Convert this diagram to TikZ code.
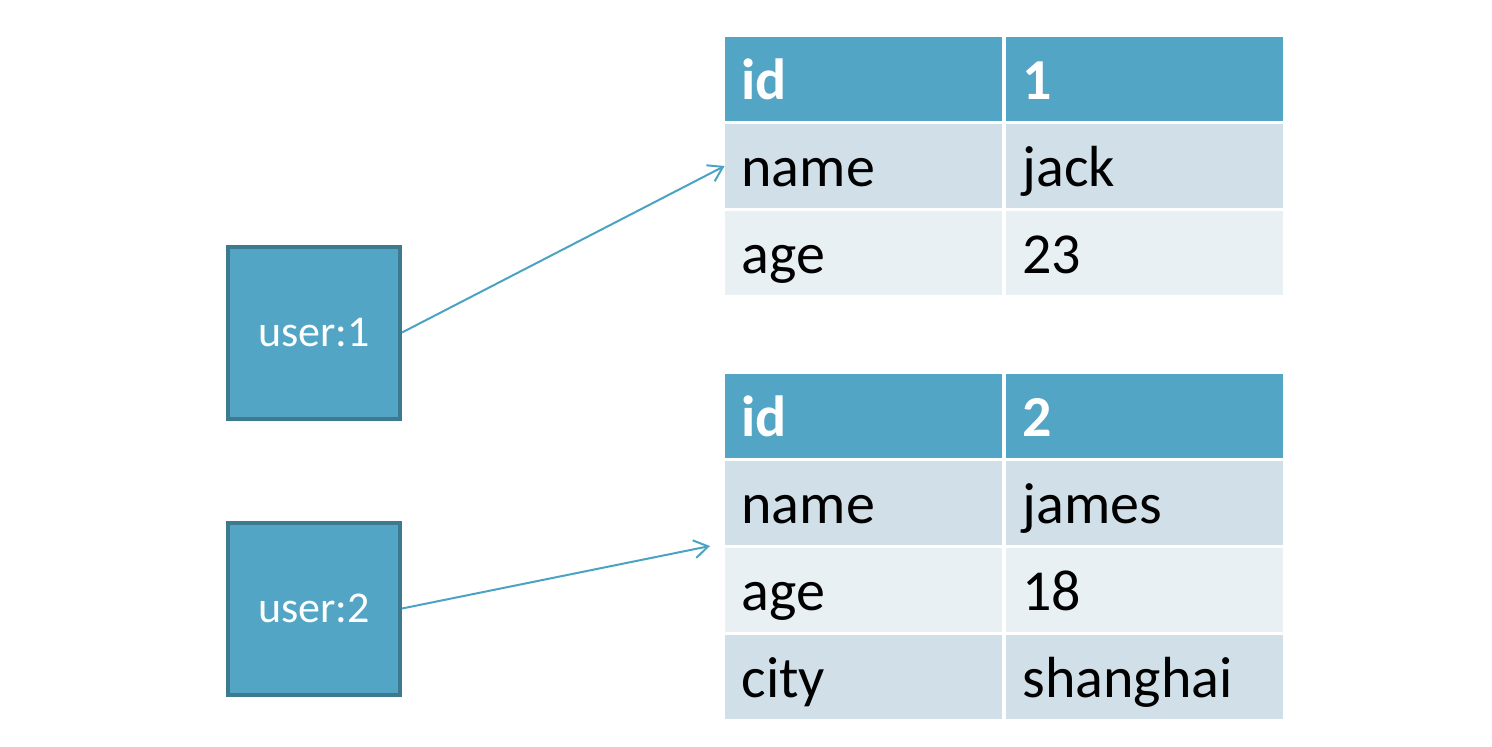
\documentclass[tikz,border=0pt]{standalone}
\usepackage{fontspec}
\setmainfont{Carlito}
\usetikzlibrary{arrows.meta}
\definecolor{hdblue}{RGB}{82,165,196}
\definecolor{boxline}{RGB}{62,122,143}
\definecolor{rowdark}{RGB}{208,223,232}
\definecolor{rowlight}{RGB}{232,240,244}
\definecolor{linkblue}{RGB}{75,163,196}

\begin{document}
\begin{tikzpicture}[x=0.5pt,y=-0.5pt,>={Straight Barb[length=7pt,width=9pt]},
  cell/.style={text width=122pt,inner xsep=8.25pt,inner ysep=0pt,text height=31pt,text depth=11pt,align=left,font=\fontsize{29pt}{34pt}\selectfont},
  head/.style={cell,fill=hdblue,text=white,font=\fontsize{29pt}{34pt}\selectfont\bfseries},
  dark/.style={cell,fill=rowdark},
  light/.style={cell,fill=rowlight},
  keybox/.style={draw=boxline,line width=2pt,fill=hdblue,minimum size=86pt,inner sep=0pt,text=white,font=\fontsize{22pt}{26pt}\selectfont},
  link/.style={linkblue,line width=1pt}]
\useasboundingbox (0,0) rectangle (1492,746);
% keys
\node[keybox] (user1) at (314,332.5) {user:1};
\node[keybox] (user2) at (314,608.5) {user:2};
% first hash
\node[head] (id1) at (863.5,79) {id};
\node[head] (id1v) at (1144.5,79) {1};
\node[dark] (name1) at (863.5,166) {name};
\node[dark] (name1v) at (1144.5,166) {jack};
\node[light] (age1) at (863.5,253) {age};
\node[light] (age1v) at (1144.5,253) {23};
% second hash
\node[head] (id2) at (863.5,416) {id};
\node[head] (id2v) at (1144.5,416) {2};
\node[dark] (name2) at (863.5,503) {name};
\node[dark] (name2v) at (1144.5,503) {james};
\node[light] (age2) at (863.5,590) {age};
\node[light] (age2v) at (1144.5,590) {18};
\node[dark] (city2) at (863.5,677) {city};
\node[dark] (city2v) at (1144.5,677) {shanghai};
% links
\coordinate (tip2) at (710,546);
\draw[link,->] (user1.east) -- (name1.west);
\draw[link,->] (user2.east) -- (tip2);
\end{tikzpicture}
\end{document}
